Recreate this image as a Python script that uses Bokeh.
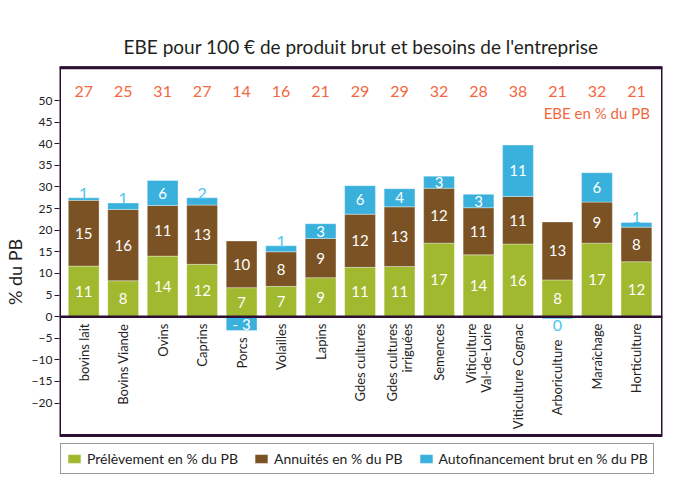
from math import pi
from bokeh.plotting import figure
from bokeh.models import (ColumnDataSource, Legend, LegendItem, FixedTicker, Span, Label,
                          BoxAnnotation)
from bokeh.core.properties import value
from bokeh.embed import file_html
from bokeh.resources import INLINE

# ---------------- data ----------------
categories = ["bovins lait", "Bovins Viande", "Ovins", "Caprins", "Porcs", "Volailles",
              "Lapins", "Gdes cultures", "Gdes cultures\nirriguées", "Semences",
              "Viticulture\nVal-de-Loire", "Viticulture Cognac", "Arboriculture",
              "Maraîchage", "Horticulture"]
prelevement = [11.7, 8.3, 14.0, 12.1, 6.7, 7.0, 9.0, 11.4, 11.6, 17.0, 14.3, 16.8, 8.5, 17.0, 12.7]
annuites = [15.2, 16.5, 11.7, 13.7, 10.8, 8.0, 9.1, 12.3, 13.8, 12.7, 10.9, 11.0, 13.4, 9.5, 8.0]
autofin = [0.6, 1.5, 5.8, 1.7, -3.2, 1.4, 3.4, 6.6, 4.2, 2.8, 3.1, 11.9, -0.5, 6.8, 1.1]
prel_labels = ["11", "8", "14", "12", "7", "7", "9", "11", "11", "17", "14", "16", "8", "17", "12"]
annu_labels = ["15", "16", "11", "13", "10", "8", "9", "12", "13", "12", "11", "11", "13", "9", "8"]
auto_labels = ["1", "1", "6", "2", "- 3", "1", "3", "6", "4", "3", "3", "11", "0", "6", "1"]
ebe = ["27", "25", "31", "27", "14", "16", "21", "29", "29", "32", "28", "38", "21", "32", "21"]
y_ticks = [-20, -15, -10, -5, 0, 5, 10, 15, 20, 25, 30, 35, 40, 45, 50]

FONT = "Lato"
GREEN, BROWN, BLUE = "#a1b92e", "#7a5224", "#39b1dc"
DARK = "#2d0f33"
ORANGE = "#f2673f"
LIGHTBLUE = "#4cc6f0"

X0, X1 = -0.6125, 14.66
Y_RANGE_TOP, Y_BOX_TOP, Y_BOX_BOTTOM, Y_BOTTOM = 58.1, 57.6, -27.5, -37.45

x = list(range(len(categories)))
stack1 = [p_ + a_ for p_, a_ in zip(prelevement, annuites)]
auto_bottom = [s if a > 0 else 0 for s, a in zip(stack1, autofin)]
auto_top = [s + a if a > 0 else a for s, a in zip(stack1, autofin)]

p = figure(width=666, height=480, x_range=(X0, X1), y_range=(Y_BOTTOM, Y_RANGE_TOP),
           output_backend="svg", toolbar_location=None,
           min_border_left=51, min_border_right=4, min_border_top=65, min_border_bottom=2,
           background_fill_color="white", border_fill_color="white")

src = ColumnDataSource(dict(x=x, prel=prelevement, s1=stack1, ab=auto_bottom, at=auto_top))
W = 0.78
edge = dict(line_color="white", line_alpha=0.35, line_width=1)
r1 = p.vbar(x="x", bottom=0, top="prel", width=W, fill_color=GREEN, source=src, **edge)
r2 = p.vbar(x="x", bottom="prel", top="s1", width=W, fill_color=BROWN, source=src, **edge)
r3 = p.vbar(x="x", bottom="ab", top="at", width=W, fill_color=BLUE, source=src, **edge)

p.add_layout(Span(location=0, dimension="width", line_color=DARK, line_width=2.5))
p.add_layout(Span(location=Y_BOX_TOP, dimension="width", line_color=DARK, line_width=2.5))
p.add_layout(BoxAnnotation(left=X0, right=X1, top=Y_BOX_TOP, bottom=Y_BOX_BOTTOM, fill_alpha=0,
                           line_color=DARK, line_width=3, line_alpha=1))

# in-bar labels
lx, ly, lt = [], [], []
for i in x:
    lx.append(i); ly.append(prelevement[i] / 2); lt.append(prel_labels[i])
    lx.append(i); ly.append(prelevement[i] + annuites[i] / 2); lt.append(annu_labels[i])
    a = autofin[i]
    if a >= 2:
        lx.append(i); ly.append(stack1[i] + a / 2); lt.append(auto_labels[i])
    elif a <= -2:
        lx.append(i); ly.append(a / 2); lt.append(auto_labels[i])
p.text(x=lx, y=ly, text=lt, text_color="white", text_font=value(FONT), text_font_size="15px",
       text_align="center", text_baseline="middle")

# outside blue labels
ax_, ay_, at_ = [], [], []
bx_, by_, bt_ = [], [], []
cat_y = []
for i in x:
    a = autofin[i]
    if 0 < a < 2:
        ax_.append(i); ay_.append(stack1[i] + a - 0.2); at_.append(auto_labels[i])
        cat_y.append(-1.6)
    elif -2 < a <= 0:
        bx_.append(i); by_.append(-0.7); bt_.append(auto_labels[i])
        cat_y.append(-5.3)
    else:
        cat_y.append(min(0, a) - 1.6)
p.text(x=ax_, y=ay_, text=at_, text_color=LIGHTBLUE, text_font=value(FONT),
       text_font_size="16px", text_align="center", text_baseline="bottom")
p.text(x=bx_, y=by_, text=bt_, text_color=LIGHTBLUE, text_font=value(FONT),
       text_font_size="16px", text_align="center", text_baseline="top")

# category labels (rotated)
p.text(x=x, y=cat_y, text=categories, angle=pi / 2, text_color="#222222", text_font=value(FONT),
       text_font_size="13px", text_align="right", text_baseline="middle", text_line_height=0.9)

# EBE values on top
p.text(x=x, y=[52.1] * len(x), text=ebe, text_color=ORANGE, text_font=value(FONT),
       text_font_size="16px", text_align="center", text_baseline="middle")
p.add_layout(Label(x=14.34, y=47.0, text="EBE en % du PB", text_color=ORANGE, text_font=FONT,
                   text_font_size="15px", text_align="right", text_baseline="middle"))

# title
p.title.text = "EBE pour 100 € de produit brut et besoins de l'entreprise"
p.title.align = "center"
p.title.text_font = FONT
p.title.text_font_size = "19px"
p.title.text_font_style = "normal"
p.title.text_color = "#231f20"
p.title.standoff = 15

# axes
p.xaxis.visible = False
p.xgrid.visible = False
p.ygrid.visible = False
p.yaxis.ticker = FixedTicker(ticks=y_ticks)
p.yaxis.axis_line_color = None
p.yaxis.major_tick_line_color = DARK
p.yaxis.major_tick_out = 5
p.yaxis.major_tick_in = 0
p.yaxis.minor_tick_line_color = None
p.yaxis.major_label_text_font = FONT
p.yaxis.major_label_text_font_size = "12px"
p.yaxis.major_label_text_color = "#222222"
p.yaxis.major_label_standoff = 2
p.yaxis.axis_label = "% du PB"
p.yaxis.axis_label_text_font = FONT
p.yaxis.axis_label_text_font_size = "18px"
p.yaxis.axis_label_text_font_style = "normal"
p.yaxis.axis_label_text_color = "#222222"
p.yaxis.axis_label_standoff = 3

p.outline_line_color = None

legend = Legend(items=[LegendItem(label="Prélèvement en % du PB", renderers=[r1]),
                       LegendItem(label="Annuités en % du PB", renderers=[r2]),
                       LegendItem(label="Autofinancement brut en % du PB", renderers=[r3])],
                orientation="horizontal", location=(1, 4), margin=0, padding=5,
                spacing=15, glyph_width=16, glyph_height=11, label_standoff=5,
                label_text_font=FONT, label_text_font_size="14px", label_text_color="#222222",
                label_height=19, border_line_color="#333333", border_line_width=1.2,
                background_fill_alpha=1)
p.add_layout(legend, "center")

open("out.html", "w").write(file_html(p, INLINE))
